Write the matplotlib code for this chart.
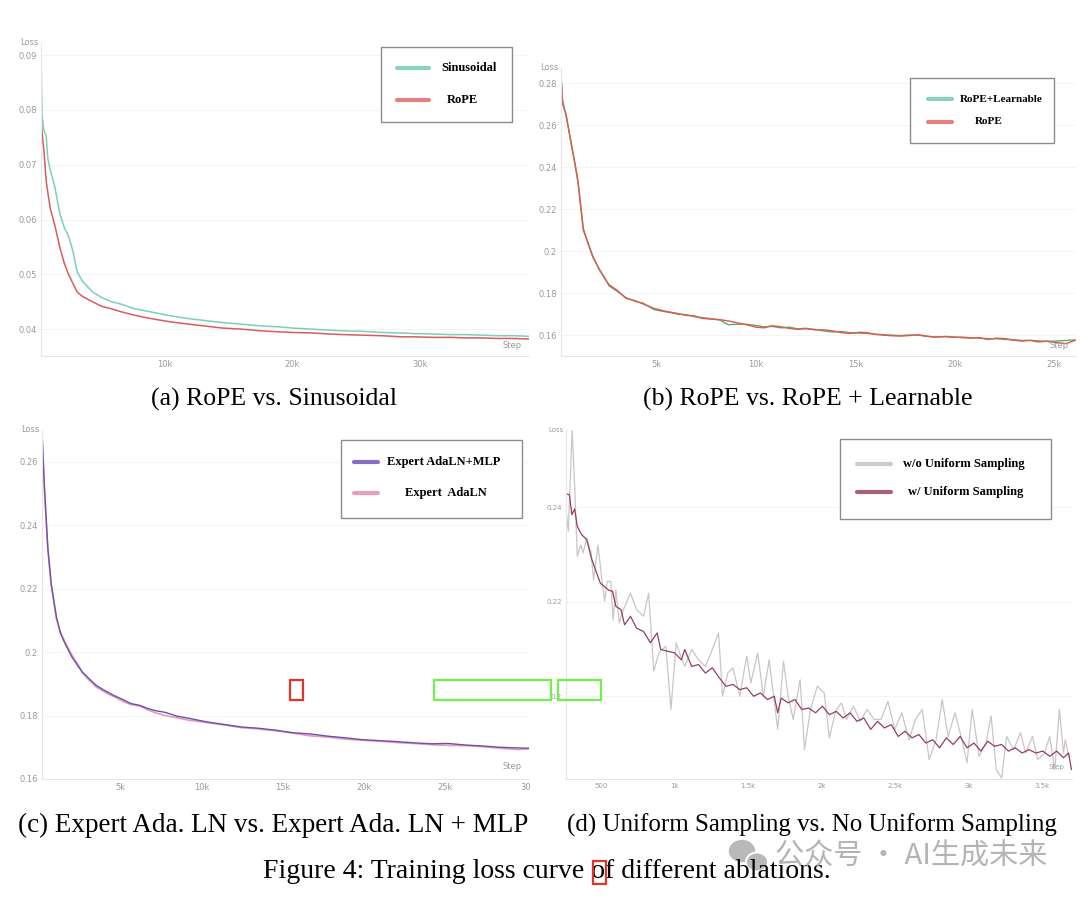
import matplotlib
matplotlib.use("Agg")
import matplotlib.pyplot as plt
from matplotlib.patches import Rectangle, Ellipse
from matplotlib.lines import Line2D

# ---------------- data ----------------
# (a) RoPE vs. Sinusoidal, step in k
steps_a = [0.27, 0.35, 0.5, 0.68, 0.8, 1.0, 1.35, 1.76, 2.1, 2.43, 2.8, 3.1, 3.5, 4.3,
           5.0, 5.8, 6.5, 7.5, 8.3, 9.2, 10.5, 11.9, 13.0, 14.5, 16.0, 17.5, 19.0, 20.0,
           21.5, 23.0, 24.0, 25.5, 27.0, 28.5, 29.5, 31.0, 32.5, 33.5, 34.9, 36.0, 37.3, 38.5]
sinusoidal = [0.0905, 0.0790, 0.0762, 0.0752, 0.0712, 0.0690, 0.0660, 0.0610, 0.0585, 0.0570,
              0.0540, 0.0505, 0.0488, 0.0468, 0.0458, 0.0450, 0.0446, 0.0438, 0.0434, 0.0430,
              0.0424, 0.0419, 0.0416, 0.0412, 0.0409, 0.0406, 0.0404, 0.0402, 0.0400, 0.0398,
              0.0397, 0.0396, 0.0394, 0.0393, 0.0392, 0.0391, 0.0390, 0.0390, 0.0389, 0.0388,
              0.0388, 0.0387]
rope_a = [0.0785, 0.0760, 0.0725, 0.0670, 0.0650, 0.0620, 0.0590, 0.0548, 0.0520, 0.0500,
          0.0482, 0.0468, 0.0460, 0.0450, 0.0442, 0.0437, 0.0432, 0.0426, 0.0422, 0.0418,
          0.0413, 0.0409, 0.0406, 0.0402, 0.0400, 0.0397, 0.0395, 0.0394, 0.0393, 0.0391,
          0.0390, 0.0389, 0.0388, 0.0386, 0.0386, 0.0385, 0.0385, 0.0384, 0.0384, 0.0383,
          0.0383, 0.0382]

# (b) RoPE vs. RoPE + Learnable, step in k
steps_b = [0.19, 0.27, 0.45, 0.71, 0.9, 1.05, 1.31, 1.57, 1.8, 2.09, 2.35, 2.61,
           3.0, 3.47, 3.9, 4.34, 4.86, 5.4, 5.8, 6.07, 6.5, 6.9, 7.3, 7.8, 8.2, 8.6, 9.1,
           9.53, 10.0, 10.4, 10.8, 11.26, 11.7, 12.1, 12.5, 12.99, 13.4, 13.9, 14.3, 14.72,
           15.2, 15.6, 16.0, 16.45, 16.9, 17.3, 17.7, 18.18, 18.6, 19.0, 19.5, 19.91, 20.4,
           20.8, 21.2, 21.64, 22.1, 22.5, 22.9, 23.37, 23.8, 24.2, 24.6, 25.1, 25.6, 26.05]
rope_learnable = [0.2837, 0.2718, 0.2640, 0.2514, 0.2410, 0.2324, 0.2110, 0.2030, 0.1975,
                  0.1915, 0.1880, 0.1835,
                  0.1810, 0.1778, 0.1762, 0.1752, 0.1722, 0.1712, 0.1706, 0.1700, 0.1698,
                  0.1688, 0.1684, 0.1678, 0.1672, 0.1650, 0.1652, 0.1652, 0.1646, 0.1640,
                  0.1642, 0.1635, 0.1638, 0.1630, 0.1633, 0.1627, 0.1620, 0.1615, 0.1618,
                  0.1612, 0.1610, 0.1608, 0.1605, 0.1602, 0.1600, 0.1598, 0.1601, 0.1600,
                  0.1594, 0.1592, 0.1593, 0.1590, 0.1591, 0.1588, 0.1586, 0.1584, 0.1583,
                  0.1580, 0.1579, 0.1575, 0.1576, 0.1573, 0.1571, 0.1572, 0.1575, 0.1578]
rope_b = [0.2840, 0.2700, 0.2650, 0.2505, 0.2415, 0.2330, 0.2100, 0.2035, 0.1970, 0.1920,
          0.1875, 0.1840,
          0.1815, 0.1775, 0.1765, 0.1748, 0.1728, 0.1715, 0.1708, 0.1703, 0.1694, 0.1692,
          0.1680, 0.1676, 0.1674, 0.1668, 0.1658, 0.1650, 0.1638, 0.1635, 0.1645, 0.1640,
          0.1632, 0.1628, 0.1631, 0.1625, 0.1626, 0.1620, 0.1612, 0.1608, 0.1614, 0.1612,
          0.1604, 0.1600, 0.1597, 0.1596, 0.1598, 0.1602, 0.1596, 0.1590, 0.1594, 0.1592,
          0.1588, 0.1586, 0.1589, 0.1580, 0.1586, 0.1584, 0.1577, 0.1572, 0.1575, 0.1568,
          0.1571, 0.1565, 0.1560, 0.1575]

# (c) Expert AdaLN vs. Expert AdaLN + MLP, step in k
steps_c = [0.17, 0.32, 0.53, 0.74, 1.06, 1.3, 1.6, 2.02, 2.4, 2.66, 3.1, 3.51, 4.0, 4.57,
           5.1, 5.64, 6.2, 6.7, 7.2, 7.77, 8.5, 9.26, 10.32, 11.4, 12.45, 13.5, 14.57, 15.6,
           16.7, 17.8, 18.83, 19.9, 20.96, 22.0, 23.09, 24.2, 25.21, 26.3, 27.34, 28.4,
           29.47, 30.2]
adaln_mlp = [0.2696, 0.2518, 0.2330, 0.2215, 0.2110, 0.2060, 0.2026, 0.1984, 0.1955, 0.1937,
             0.1915, 0.1895, 0.1880, 0.1864, 0.1852, 0.1838, 0.1832, 0.1822, 0.1815, 0.1810,
             0.1798, 0.1791, 0.1780, 0.1772, 0.1764, 0.1760, 0.1754, 0.1746, 0.1742, 0.1735,
             0.1730, 0.1724, 0.1721, 0.1718, 0.1714, 0.1711, 0.1712, 0.1707, 0.1704, 0.1700,
             0.1698, 0.1697]
adaln = [0.2690, 0.2510, 0.2320, 0.2210, 0.2105, 0.2065, 0.2030, 0.1990, 0.1960, 0.1935,
         0.1910, 0.1890, 0.1875, 0.1860, 0.1846, 0.1835, 0.1830, 0.1818, 0.1808, 0.1800,
         0.1793, 0.1785, 0.1778, 0.1770, 0.1762, 0.1758, 0.1752, 0.1745, 0.1736, 0.1732,
         0.1726, 0.1722, 0.1719, 0.1715, 0.1712, 0.1708, 0.1706, 0.1705, 0.1702, 0.1697,
         0.1693, 0.1695]

# (d) Uniform sampling, step in raw steps
steps_wo = [251, 274, 300, 317, 335, 359, 375, 399, 429, 446, 476, 500, 521, 539, 563, 579,
            598, 621, 645, 697, 739, 786, 821, 856, 891, 938, 973, 1008, 1032, 1067, 1114,
            1161, 1208, 1255, 1297, 1325, 1360, 1395, 1442, 1489, 1517, 1564, 1602, 1642,
            1700, 1740, 1771, 1806, 1853, 1883, 1923, 1970, 2017, 2052, 2094, 2134, 2169,
            2216, 2263, 2310, 2357, 2404, 2451, 2498, 2545, 2596, 2638, 2685, 2732, 2779,
            2821, 2861, 2908, 2955, 2990, 3025, 3072, 3119, 3154, 3189, 3225, 3260, 3307,
            3354, 3389, 3436, 3471, 3518, 3553, 3588, 3619, 3647, 3659, 3682]
wo_uniform = [0.2415, 0.2349, 0.2563, 0.2444, 0.2296, 0.2320, 0.2303, 0.2335, 0.2303, 0.2246,
              0.2320, 0.2254, 0.2201, 0.2243, 0.2243, 0.2162, 0.2225, 0.2155, 0.2180, 0.2218,
              0.2183, 0.2169, 0.2218, 0.2053, 0.2092, 0.2106, 0.1972, 0.2113, 0.2092, 0.2063,
              0.2099, 0.2077, 0.2063, 0.2099, 0.2134, 0.2000, 0.2049, 0.2060, 0.2000, 0.2085,
              0.2028, 0.2092, 0.2000, 0.2077, 0.1930, 0.2074, 0.2000, 0.1951, 0.2035, 0.1887,
              0.1972, 0.2021, 0.2007, 0.1912, 0.1968, 0.1986, 0.1951, 0.1979, 0.1947, 0.1972,
              0.1951, 0.1951, 0.1989, 0.1930, 0.1965, 0.1908, 0.1951, 0.1972, 0.1866, 0.1908,
              0.1993, 0.1915, 0.1965, 0.1908, 0.1859, 0.1972, 0.1873, 0.1901, 0.1958, 0.1845,
              0.1827, 0.1915, 0.1887, 0.1923, 0.1880, 0.1915, 0.1866, 0.1880, 0.1915, 0.1845,
              0.1972, 0.1880, 0.1908, 0.1873]
steps_w = [258, 281, 298, 317, 335, 364, 399, 434, 492, 551, 575, 598, 633, 657, 697, 739,
           786, 833, 879, 903, 950, 997, 1044, 1067, 1114, 1161, 1208, 1255, 1302, 1348,
           1395, 1442, 1489, 1536, 1583, 1630, 1677, 1700, 1724, 1771, 1818, 1864, 1911,
           1958, 2005, 2052, 2099, 2146, 2193, 2240, 2287, 2334, 2380, 2427, 2474, 2521,
           2568, 2615, 2662, 2709, 2756, 2803, 2849, 2896, 2943, 2990, 3037, 3084, 3131,
           3178, 3225, 3272, 3318, 3365, 3412, 3459, 3506, 3553, 3600, 3647, 3682, 3701]
w_uniform = [0.2428, 0.2426, 0.2384, 0.2396, 0.2359, 0.2342, 0.2331, 0.2289, 0.2239, 0.2224,
             0.2222, 0.2190, 0.2183, 0.2151, 0.2169, 0.2144, 0.2137, 0.2113, 0.2134, 0.2099,
             0.2095, 0.2092, 0.2077, 0.2099, 0.2063, 0.2067, 0.2049, 0.2060, 0.2039, 0.2021,
             0.2025, 0.2014, 0.2018, 0.2000, 0.2007, 0.1993, 0.2000, 0.1965, 0.1996, 0.1986,
             0.1993, 0.1972, 0.1975, 0.1965, 0.1979, 0.1961, 0.1968, 0.1954, 0.1965, 0.1947,
             0.1954, 0.1930, 0.1947, 0.1933, 0.1940, 0.1915, 0.1926, 0.1912, 0.1919, 0.1901,
             0.1908, 0.1891, 0.1912, 0.1898, 0.1915, 0.1891, 0.1901, 0.1884, 0.1905, 0.1894,
             0.1898, 0.1884, 0.1891, 0.1880, 0.1887, 0.1880, 0.1884, 0.1873, 0.1884, 0.1870,
             0.1880, 0.1845]

W, H = 1080, 900
fig = plt.figure(figsize=(10.8, 9), dpi=100)
fig.patch.set_facecolor("white")


def px(x, y):
    return x / W, 1 - y / H


def make_axes(left, top, right, bottom):
    ax = fig.add_axes([left / W, 1 - bottom / H, (right - left) / W, (bottom - top) / H])
    for s in ["top", "right"]:
        ax.spines[s].set_visible(False)
    for s in ["left", "bottom"]:
        ax.spines[s].set_color("#e6e6e6")
        ax.spines[s].set_linewidth(0.8)
    ax.tick_params(length=0, labelsize=6, labelcolor="#9a9a9a", pad=3)
    ax.grid(axis="y", color="#f3f3f3", linewidth=0.6)
    ax.set_axisbelow(True)
    return ax


def axis_words(ax, size=6):
    ax.text(-0.005, 1.0, "Loss", transform=ax.transAxes, ha="right", va="center",
            fontsize=size, color="#9a9a9a")
    ax.text(0.985, 0.035, "Step", transform=ax.transAxes, ha="right", va="center",
            fontsize=size, color="#9a9a9a")


def legend_box(x0, y0, x1, y1, entries, fs=9):
    fig.patches.append(Rectangle(px(x0, y1), (x1 - x0) / W, (y1 - y0) / H,
                                 transform=fig.transFigure, facecolor="white",
                                 edgecolor="#8c8c8c", linewidth=1.0, zorder=5))
    for (lx0, lx1, ly, color, label, tx) in entries:
        fig.lines.append(Line2D([lx0 / W, lx1 / W], [1 - ly / H, 1 - ly / H],
                                transform=fig.transFigure, color=color, linewidth=3,
                                solid_capstyle="round", zorder=6))
        fig.text(tx / W, 1 - ly / H, label, ha="left", va="center", fontsize=fs,
                 fontweight="bold", family="Liberation Serif", zorder=6)


# ---------------- (a) ----------------
ax = make_axes(41, 43, 529, 356)
ax.plot(steps_a, sinusoidal, color="#7fcfb8", linewidth=1.1)
ax.plot(steps_a, rope_a, color="#d95c5c", linewidth=1.1)
ax.set_xlim(0.27, 38.55)
ax.set_ylim(0.0351, 0.0922)
ax.set_xticks([10, 20, 30], ["10k", "20k", "30k"])
ax.set_yticks([0.04, 0.05, 0.06, 0.07, 0.08, 0.09],
              ["0.04", "0.05", "0.06", "0.07", "0.08", "0.09"])
axis_words(ax)
legend_box(381, 47, 512, 122, [(397, 429, 68, "#8ad4bf", "Sinusoidal", 441),
                               (397, 429, 100, "#e58080", "RoPE", 447)])

# ---------------- (b) ----------------
ax = make_axes(561, 68, 1076, 356)
ax.plot(steps_b, rope_learnable, color="#5aa878", linewidth=1.0)
ax.plot(steps_b, rope_b, color="#e0584e", linewidth=1.0)
ax.set_xlim(0.19, 26.1)
ax.set_ylim(0.1501, 0.2872)
ax.set_xticks([5, 10, 15, 20, 25], ["5k", "10k", "15k", "20k", "25k"])
ax.set_yticks([0.16, 0.18, 0.2, 0.22, 0.24, 0.26, 0.28],
              ["0.16", "0.18", "0.2", "0.22", "0.24", "0.26", "0.28"])
axis_words(ax)
legend_box(910, 78, 1054, 143, [(928, 952, 99, "#8ad4bf", "RoPE+Learnable", 960),
                                (928, 952, 122, "#e58080", "RoPE", 975)], fs=8)

# ---------------- (c) ----------------
ax = make_axes(42, 430, 529, 779)
ax.plot(steps_c, adaln, color="#e79ab5", linewidth=1.2)
ax.plot(steps_c, adaln_mlp, color="#6a50b0", linewidth=1.0)
ax.set_xlim(0.17, 30.2)
ax.set_ylim(0.16, 0.2700)
ax.set_xticks([5, 10, 15, 20, 25, 30], ["5k", "10k", "15k", "20k", "25k", "30"])
ax.set_yticks([0.16, 0.18, 0.2, 0.22, 0.24, 0.26],
              ["0.16", "0.18", "0.2", "0.22", "0.24", "0.26"])
axis_words(ax)
legend_box(341, 440, 522, 518, [(354, 378, 462, "#8870c0", "Expert AdaLN+MLP", 387),
                                (354, 378, 493, "#e8a0b8", "Expert  AdaLN", 405)])

# ---------------- (d) ----------------
ax = make_axes(566, 430, 1072, 779)
ax.plot(steps_wo, wo_uniform, color="#cbc5c8", linewidth=0.9)
ax.plot(steps_w, w_uniform, color="#93405f", linewidth=0.9)
ax.set_xlim(258, 3705)
ax.set_ylim(0.1825, 0.2563)
ax.set_xticks([500, 1000, 1500, 2000, 2500, 3000, 3500],
              ["500", "1k", "1.5k", "2k", "2.5k", "3k", "3.5k"])
ax.set_yticks([0.2, 0.22, 0.24], ["0.2", "0.22", "0.24"])
ax.tick_params(labelsize=5)
axis_words(ax, size=5)
legend_box(840, 439, 1051, 519, [(857, 891, 464, "#cccccc", "w/o Uniform Sampling", 903),
                                 (857, 891, 492, "#a8607d", "w/ Uniform Sampling", 908)])

# ---------------- captions ----------------
serif = "Liberation Serif"
fig.text(*px(274, 399), "(a) RoPE vs. Sinusoidal", ha="center", va="center",
         fontsize=18.5, family=serif)
fig.text(*px(808, 399), "(b) RoPE vs. RoPE + Learnable", ha="center", va="center",
         fontsize=18.5, family=serif)
fig.text(*px(273, 825), "(c) Expert Ada. LN vs. Expert Ada. LN + MLP", ha="center",
         va="center", fontsize=19.5, family=serif)
fig.text(*px(812, 825), "(d) Uniform Sampling vs. No Uniform Sampling", ha="center",
         va="center", fontsize=18.0, family=serif)
fig.text(*px(547, 872), "Figure 4: Training loss curve of different ablations.",
         ha="center", va="center", fontsize=20, family=serif)

# watermark
fig.text(*px(775, 857), "公众号 · AI生成未来", ha="left", va="center", fontsize=21,
         color="#b4b4b4", family=["Noto Sans CJK SC", "DejaVu Sans"])
fig.patches.append(Ellipse(px(742, 851), 28 / W, 24 / H, transform=fig.transFigure,
                           facecolor="#b9b9b9", edgecolor="white", linewidth=1.2))
fig.patches.append(Ellipse(px(757, 862), 22 / W, 19 / H, transform=fig.transFigure,
                           facecolor="#b9b9b9", edgecolor="white", linewidth=1.4))

# annotation boxes
for (x0, y0, x1, y1, c) in [(290, 680, 303, 700, "#e0352b"), (434, 680, 551, 700, "#6ff04a"),
                            (558, 680, 601, 700, "#6ff04a"), (593, 861, 606, 884, "#e0352b")]:
    fig.patches.append(Rectangle(px(x0, y1), (x1 - x0) / W, (y1 - y0) / H,
                                 transform=fig.transFigure, facecolor="none",
                                 edgecolor=c, linewidth=1.6, zorder=10))

fig.savefig("out.png", dpi=100, facecolor="white")
